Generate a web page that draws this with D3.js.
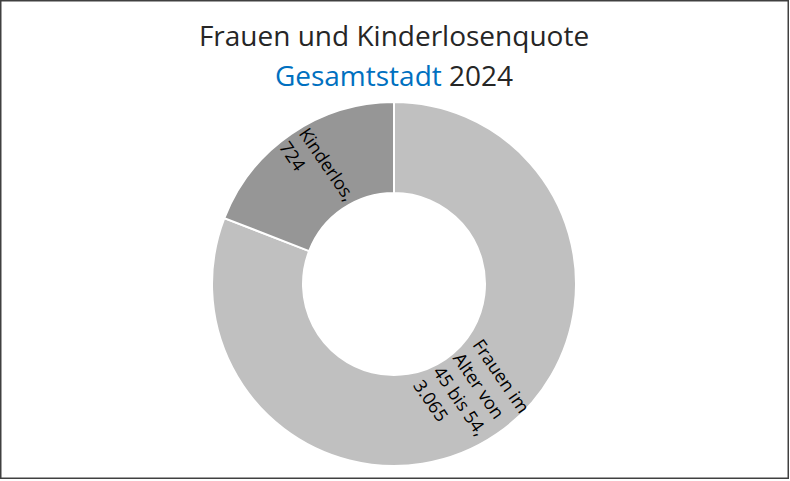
<!DOCTYPE html>
<html>
<head>
<meta charset="utf-8">
<script src="https://cdn.jsdelivr.net/npm/d3@7"></script>
<style>
  body { margin: 0; background: #fff; }
  svg { display: block; }
</style>
</head>
<body>
<div id="chart"></div>
<script>
// data
const categories = ["Frauen im Alter von 45 bis 54", "Kinderlos"];
const values = [3065, 724];
const labelLines = [["Frauen im", "Alter von", "45 bis 54,", "3.065"], ["Kinderlos,", "724"]];
const colors = ["#c0c0c0", "#969696"];

const width = 790, height = 481;
const cx = 394, cy = 284, outerR = 182, innerR = 91;
const fontFam = "'Open Sans', 'Noto Sans', sans-serif";

const svg = d3.select("#chart").append("svg")
  .attr("width", width)
  .attr("height", height);

svg.append("rect")
  .attr("x", 0.75).attr("y", 0.75)
  .attr("width", 787.5).attr("height", 477.5)
  .attr("fill", "#fff")
  .attr("stroke", "#404040")
  .attr("stroke-width", 1.5);

// title
const title = svg.append("text")
  .attr("x", cx).attr("text-anchor", "middle")
  .style("font-family", fontFam)
  .style("font-size", "28px")
  .attr("fill", "#262626");
title.append("tspan").attr("x", cx).attr("y", 46).text("Frauen und Kinderlosenquote");
const t2 = title.append("tspan").attr("x", cx).attr("y", 86);
t2.append("tspan").attr("fill", "#0070c0").text("Gesamtstadt");
t2.append("tspan").text(" 2024");

const pie = d3.pie().sort(null).value(d => d)(values);
const arc = d3.arc().innerRadius(innerR).outerRadius(outerR);

const g = svg.append("g").attr("transform", `translate(${cx},${cy})`);

g.selectAll("path.slice")
  .data(pie)
  .enter()
  .append("path")
  .attr("class", "slice")
  .attr("d", arc)
  .attr("fill", (d, i) => colors[i])
  .attr("stroke", "#fff")
  .attr("stroke-width", 2);

// rotated labels along the radius, lines left aligned inside a centred block
const lineH = 24;
g.selectAll("text.lbl")
  .data(pie)
  .enter()
  .append("text")
  .attr("class", "lbl")
  .each(function(d, i) {
    const mid = (d.startAngle + d.endAngle) / 2;
    const rMid = (innerR + outerR) / 2;
    const x = Math.sin(mid) * rMid, y = -Math.cos(mid) * rMid;
    let deg = mid * 180 / Math.PI - 90;
    if (deg > 90) deg -= 180;
    const lines = labelLines[i];
    const t = d3.select(this)
      .attr("transform", `translate(${x},${y}) rotate(${deg})`)
      .attr("text-anchor", "start")
      .style("font-family", fontFam)
      .style("font-size", "18px")
      .attr("fill", "#000");
    const y0 = -(lines.length - 1) * lineH / 2 + 6;
    const spans = lines.map((s, k) =>
      t.append("tspan").attr("y", y0 + k * lineH).text(s));
    const maxW = d3.max(spans, s => s.node().getComputedTextLength());
    spans.forEach(s => s.attr("x", -maxW / 2));
  });
</script>
</body>
</html>
